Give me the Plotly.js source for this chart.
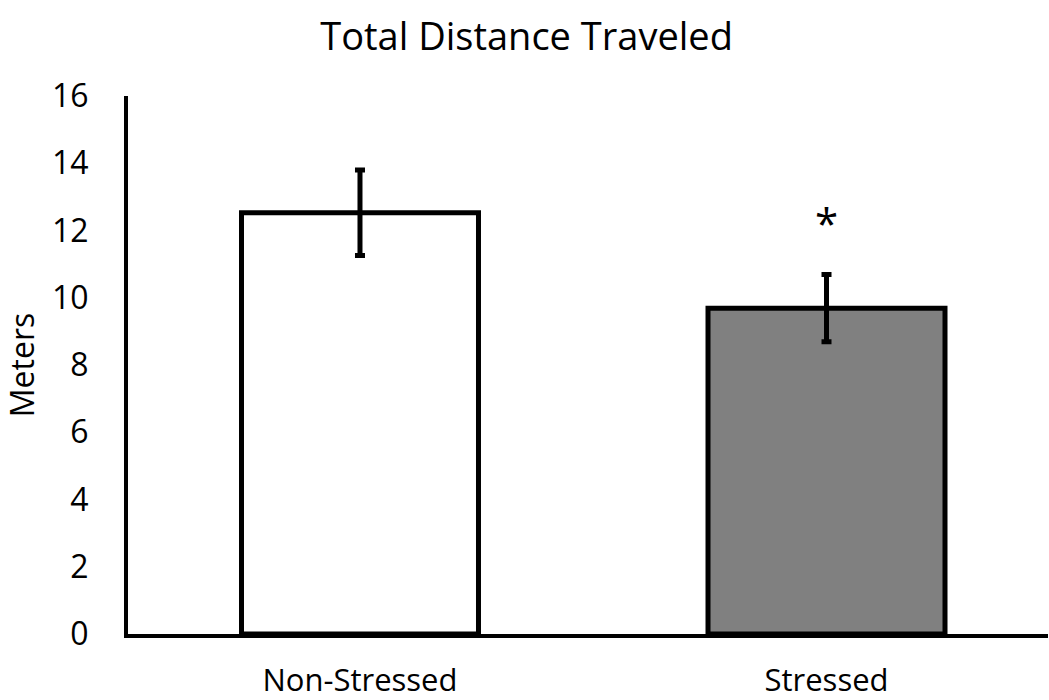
<!DOCTYPE html>
<html>
<head>
<meta charset="utf-8">
<script src="https://cdn.plot.ly/plotly-3.0.1.min.js"></script>
<style>html,body{margin:0;padding:0;background:#fff;}#chart{width:1049px;height:700px;}</style>
</head>
<body>
<div id="chart"></div>
<script>
const categories = ["Non-Stressed", "Stressed"];
const meanValues = [12.53, 9.69];
const errorValues = [1.27, 1.0];
const barColors = ["#ffffff", "#808080"];
const yTickValues = [0, 2, 4, 6, 8, 10, 12, 14, 16];
const significance = ["", "*"];

const FONT = "Open Sans, Noto Sans, sans-serif";

const trace = {
  type: "bar",
  x: categories,
  y: meanValues,
  width: 0.508,
  marker: { color: barColors, line: { color: "#000", width: 5 } },
  error_y: { type: "data", array: errorValues, visible: true, color: "#000", thickness: 5, width: 5 },
  hoverinfo: "skip"
};

const annotations = [];
categories.forEach((c, i) => {
  if (significance[i]) {
    annotations.push({
      x: c, y: meanValues[i] + errorValues[i] + 1.55, xref: "x", yref: "y",
      text: significance[i], showarrow: false, yanchor: "middle",
      font: { family: FONT, size: 42, color: "#000" }
    });
  }
});

const layout = {
  width: 1049, height: 700,
  margin: { l: 128, r: 1, t: 96, b: 66, pad: 0 },
  paper_bgcolor: "#fff", plot_bgcolor: "#fff",
  showlegend: false,
  title: { text: "Total Distance Traveled", x: 0.502, xanchor: "center", y: 0.947, yanchor: "middle",
           font: { family: FONT, size: 38, color: "#000" } },
  xaxis: {
    type: "category", range: [-0.4973, 1.4748],
    showline: true, linecolor: "#000", linewidth: 4,
    showgrid: false, zeroline: false, ticks: "",
    ticklabelstandoff: 16,
    tickfont: { family: FONT, size: 31, color: "#000" }
  },
  yaxis: {
    range: [0, 16], tickvals: yTickValues, ticktext: yTickValues.map(String),
    showline: true, linecolor: "#000", linewidth: 4,
    showgrid: false, zeroline: false, ticks: "",
    ticklabelstandoff: 29,
    tickfont: { family: FONT, size: 32, color: "#000" },
    title: { text: "Meters", standoff: 12, font: { family: FONT, size: 32, color: "#000" } }
  },
  annotations: annotations
};

Plotly.newPlot("chart", [trace], layout, { displayModeBar: false, staticPlot: true });
</script>
</body>
</html>
